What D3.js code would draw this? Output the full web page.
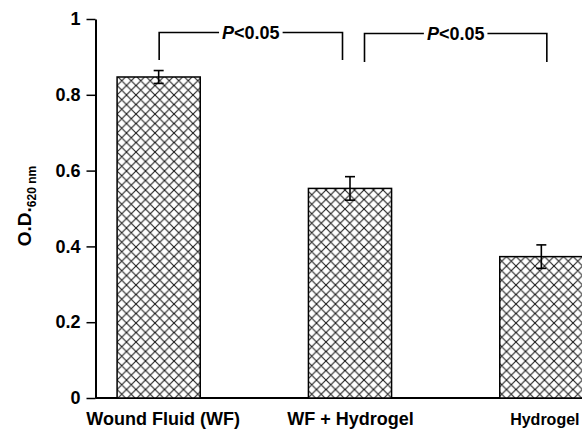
<!DOCTYPE html>
<html>
<head>
<meta charset="utf-8">
<script src="https://cdn.jsdelivr.net/npm/d3@7"></script>
<style>
  html, body { margin: 0; padding: 0; background: #fff; }
  svg { display: block; }
  text { font-family: "Liberation Sans", Arial, sans-serif; font-weight: bold; fill: #000; }
</style>
</head>
<body>
<script>
const categories = ["Wound Fluid (WF)", "WF + Hydrogel", "Hydrogel"];
const values = [0.847, 0.553, 0.373];
const errors = [0.017, 0.031, 0.031];
const tickValues = [0, 0.2, 0.4, 0.6, 0.8, 1];
const tickLabels = ["0", "0.2", "0.4", "0.6", "0.8", "1"];
const comparisons = [[0, 1, "P<0.05"], [1, 2, "P<0.05"]];

const W = 582, H = 430;
const svg = d3.select("body").append("svg").attr("width", W).attr("height", H);

// crosshatch pattern
const s = 9.5;
const defs = svg.append("defs");
const pat = defs.append("pattern").attr("id", "hatch")
  .attr("patternUnits", "userSpaceOnUse").attr("width", s).attr("height", s)
  .attr("x", 117).attr("y", 0);
pat.append("rect").attr("width", s).attr("height", s).attr("fill", "#fff");
pat.append("path")
  .attr("d", `M${-s/2},${s/2} L0,0 L${s/2},${-s/2} M0,${s} L${s},0 M${s/2},${s*1.5} L${s},${s} L${s*1.5},${s/2}
              M${-s/2},${s/2} L0,${s} L${s/2},${s*1.5} M0,0 L${s},${s} M${s/2},${-s/2} L${s},0 L${s*1.5},${s/2}`)
  .attr("stroke", "#1a1a1a").attr("stroke-width", 1.1).attr("fill", "none");

const x = d3.scaleBand().domain(categories)
  .range([64, 637]).paddingInner(107/191).paddingOuter(53/191);
const y = d3.scaleLinear().domain([0, 1]).range([398, 19]);

const axisX = 95.5;

// y axis
const yAxis = d3.axisLeft(y).tickValues(tickValues)
  .tickFormat((d, i) => tickLabels[i]).tickSize(9).tickSizeOuter(0).tickPadding(6);
const gy = svg.append("g").attr("transform", `translate(${axisX},0)`).call(yAxis);
gy.select(".domain").attr("stroke", "#000").attr("stroke-width", 2);
gy.selectAll(".tick line").attr("stroke", "#000").attr("stroke-width", 1.5);
gy.selectAll(".tick text").style("font-size", "18px")
  .style("font-family", '"Liberation Sans", Arial, sans-serif').style("font-weight", "bold");

// baseline
svg.append("line").attr("x1", axisX).attr("x2", W).attr("y1", y(0)).attr("y2", y(0))
  .attr("stroke", "#000").attr("stroke-width", 2);

// bars
svg.selectAll("rect.bar").data(values).join("rect").attr("class", "bar")
  .attr("x", (d, i) => x(categories[i]))
  .attr("y", d => y(d))
  .attr("width", x.bandwidth() - 1)
  .attr("height", d => y(0) - y(d))
  .attr("fill", "url(#hatch)")
  .attr("stroke", "#000").attr("stroke-width", 1.5);

// error bars
const cx = i => x(categories[i]) + x.bandwidth() / 2;
const eb = svg.append("g").attr("stroke", "#000").attr("stroke-width", 1.6);
values.forEach((v, i) => {
  const c = cx(i) - 0.5;
  eb.append("line").attr("x1", c).attr("x2", c).attr("y1", y(v + errors[i])).attr("y2", y(v - errors[i]));
  eb.append("line").attr("x1", c - 5).attr("x2", c + 5).attr("y1", y(v + errors[i])).attr("y2", y(v + errors[i]));
  eb.append("line").attr("x1", c - 5).attr("x2", c + 5).attr("y1", y(v - errors[i])).attr("y2", y(v - errors[i]));
});

// x labels
svg.selectAll("text.xl").data(categories).join("text").attr("class", "xl")
  .attr("x", (d, i) => cx(i) + (i === 0 ? 4 : i === 2 ? 3 : 0))
  .attr("y", 425).attr("text-anchor", "middle")
  .style("font-size", (d, i) => i === 2 ? "16px" : "18px")
  .text(d => d);

// significance brackets
const bl = svg.append("g").attr("stroke", "#000").attr("stroke-width", 1.6).attr("fill", "none");
comparisons.forEach(([a, b, lab], k) => {
  const x1 = cx(a) + (k === 0 ? 0 : 14);
  const x2 = cx(b) + (k === 0 ? -8 : 5);
  const top = k === 0 ? 32.5 : 33.5;
  const bot = k === 0 ? 60 : 62;
  const mid = (x1 + x2) / 2;
  const t = svg.append("text").attr("x", mid).attr("y", top + 6.5).attr("text-anchor", "middle")
    .style("font-size", "18px");
  t.append("tspan").style("font-style", "italic").text(lab.slice(0, 1));
  t.append("tspan").text(lab.slice(1));
  const tw = t.node().getComputedTextLength();
  bl.append("path").attr("d", `M${x1},${bot} V${top} H${mid - tw/2 - 3}`);
  bl.append("path").attr("d", `M${mid + tw/2 + 3},${top} H${x2} V${bot}`);
});

// y title
const yt = svg.append("text").attr("transform", "translate(31,206) rotate(-90)")
  .attr("text-anchor", "middle").style("font-size", "19px");
yt.append("tspan").text("O.D.");
yt.append("tspan").attr("dy", 5).style("font-size", "12px").text("620 nm");
</script>
</body>
</html>
